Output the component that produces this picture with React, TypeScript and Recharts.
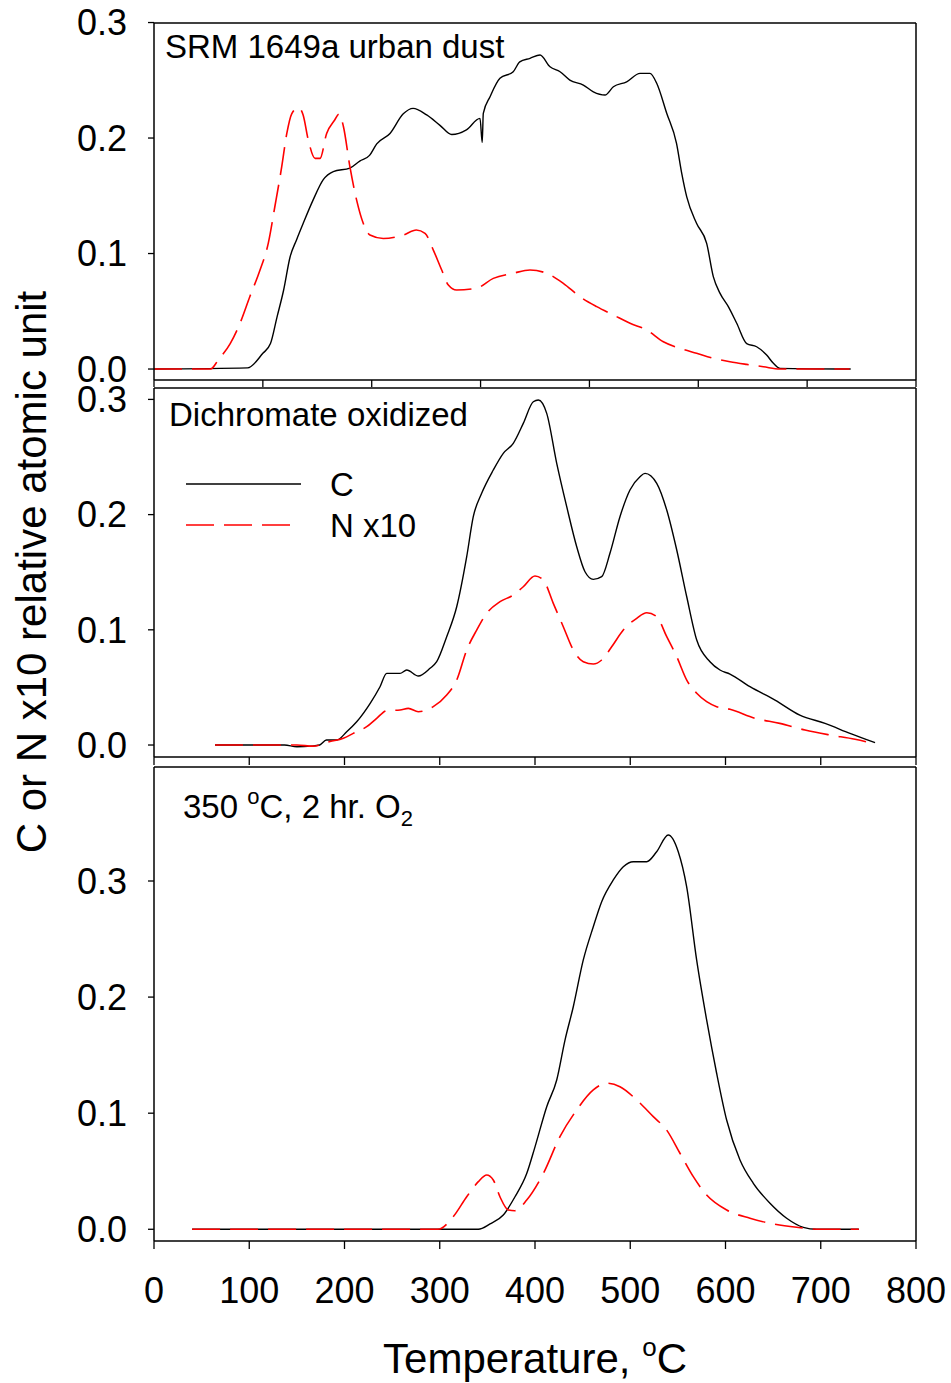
import React from 'react';
import { LineChart, Line, XAxis, YAxis, ReferenceLine, Legend } from 'recharts';

const FONT = '"Liberation Sans", Arial, Helvetica, sans-serif';

// ---------- Panel 1: SRM 1649a urban dust ----------
const srmCTemp = [0, 86, 100, 107, 113, 119, 125, 131, 137, 146, 155.5, 164.7, 180, 189, 198, 204.6, 216.8, 229, 238, 250.5, 262.7, 273.5, 287, 299.5, 301.5, 302.5, 308.7, 317.8, 330, 336, 345.4, 354.6, 363.8, 373, 382, 394.4, 403.6, 414.3, 422, 434.2, 446.5, 455.6, 461.8, 471, 480, 484.8, 489.4, 498.5, 507.7, 513.8, 520, 527.6, 535.3, 544.5, 553.6, 562.8, 569, 575, 640];
const srmC = [0, 0.001, 0.0136, 0.022, 0.045, 0.068, 0.097, 0.112, 0.126, 0.146, 0.164, 0.171, 0.174, 0.18, 0.185, 0.195, 0.204, 0.221, 0.2257, 0.22, 0.211, 0.203, 0.207, 0.217, 0.196, 0.2214, 0.2358, 0.2517, 0.2574, 0.266, 0.269, 0.2719, 0.2617, 0.2574, 0.2502, 0.2459, 0.24, 0.2372, 0.2444, 0.2487, 0.256, 0.256, 0.2474, 0.2214, 0.1954, 0.1694, 0.149, 0.126, 0.1088, 0.08, 0.0655, 0.054, 0.0396, 0.022, 0.0193, 0.0121, 0.0049, 0.0006, 0];
const srmNTemp = [0, 52, 59, 70, 79, 88, 97.4, 105, 111, 117.3, 122, 126.5, 132.6, 137, 141.8, 148, 152.5, 158.6, 166, 170, 174, 180, 186.2, 192.3, 198.4, 210.6, 229, 241, 249, 256.6, 264.3, 270.4, 278, 296.4, 311.7, 330, 345.4, 360.7, 376, 391.3, 406.7, 422, 437.3, 452.6, 467.9, 483.2, 498.5, 513.8, 529.1, 544.5, 559.8, 575, 639];
const srmN = [0, 0, 0.0078, 0.022, 0.0396, 0.0626, 0.0857, 0.109, 0.1405, 0.175, 0.204, 0.221, 0.2264, 0.22, 0.198, 0.1824, 0.1824, 0.204, 0.2156, 0.2208, 0.21, 0.175, 0.146, 0.126, 0.116, 0.113, 0.116, 0.1204, 0.1175, 0.103, 0.0857, 0.0727, 0.0684, 0.07, 0.0785, 0.0829, 0.0857, 0.0829, 0.0742, 0.0626, 0.054, 0.0468, 0.0396, 0.0338, 0.0236, 0.0179, 0.0136, 0.0093, 0.0063, 0.004, 0.002, 0, 0];

// ---------- Panel 2: Dichromate oxidized ----------
const dicCTemp = [64, 137, 150, 165, 174, 181, 191.8, 202.3, 212.8, 226.8, 237.3, 244.3, 258.3, 265.3, 277.5, 289.8, 296.8, 307.3, 317.8, 328.3, 335.2, 344, 356.2, 366.7, 377.2, 387.7, 398.2, 403.5, 412.3, 422.8, 433.3, 443.8, 452.5, 461.2, 470, 478.7, 489.2, 499.7, 510.2, 515.5, 527.8, 538.3, 548.8, 559.3, 569.8, 583.7, 594.2, 604.7, 625.7, 652, 678, 704.5, 730.7, 757];
const dicC = [0, 0, -0.0015, -0.001, 0, 0.0043, 0.0043, 0.0115, 0.0202, 0.036, 0.0506, 0.0622, 0.0622, 0.0651, 0.0599, 0.0666, 0.0723, 0.094, 0.12, 0.1635, 0.1982, 0.2185, 0.2387, 0.2532, 0.2619, 0.2792, 0.298, 0.2995, 0.2879, 0.2445, 0.2069, 0.1721, 0.1504, 0.1438, 0.1461, 0.1664, 0.1982, 0.2214, 0.2329, 0.2358, 0.2272, 0.204, 0.1693, 0.1287, 0.0911, 0.0723, 0.0651, 0.0616, 0.0506, 0.039, 0.026, 0.0188, 0.0101, 0.002];
const dicNTemp = [64, 150, 167, 184.8, 198.8, 209.2, 223.3, 233.8, 244.3, 258.3, 267, 277.5, 293.2, 307.3, 317.8, 328.3, 338.8, 349.3, 363.3, 377.2, 387.7, 400, 408.7, 419.2, 429.7, 440.2, 450.7, 461.2, 470, 480.5, 492.7, 506.8, 517.3, 527.8, 538.3, 548.8, 559.3, 569.8, 580.2, 590.7, 604.7, 631, 657, 683.5, 709.7, 736, 754.3];
const dicN = [0, 0, -0.001, 0.003, 0.0058, 0.0101, 0.0159, 0.0232, 0.0298, 0.0304, 0.0318, 0.0289, 0.0333, 0.0434, 0.0564, 0.0825, 0.0998, 0.1143, 0.1244, 0.1302, 0.1374, 0.1467, 0.1432, 0.123, 0.1027, 0.0825, 0.0723, 0.0703, 0.0738, 0.0853, 0.0998, 0.11, 0.1148, 0.1114, 0.094, 0.0767, 0.0564, 0.0449, 0.0376, 0.0333, 0.031, 0.0232, 0.0188, 0.013, 0.0087, 0.005, 0.0015];

// ---------- Panel 3: 350 °C, 2 hr. O2 ----------
const oxCTemp = [40, 340.5, 352.8, 366.7, 379, 391.3, 400, 412.3, 422.8, 431.5, 440.2, 450.7, 461.2, 470, 482.2, 492.7, 503.2, 517.2, 527.7, 539.9, 550.4, 559.2, 569.7, 580.2, 590.7, 601.2, 615.2, 629.2, 646.7, 664.2, 681.7, 695.7, 740];
const oxC = [0, 0, 0.0046, 0.0123, 0.028, 0.048, 0.071, 0.1056, 0.1286, 0.163, 0.1917, 0.232, 0.2606, 0.2822, 0.3009, 0.3123, 0.3166, 0.3166, 0.3252, 0.3396, 0.3252, 0.2951, 0.232, 0.1803, 0.1344, 0.0941, 0.0597, 0.0396, 0.0224, 0.0095, 0.0017, 0, 0];
const oxNTemp = [40, 298, 314.3, 328.3, 340.5, 349.3, 356.2, 363.2, 372, 379, 391.3, 408.7, 426.2, 443.8, 461.2, 475.2, 489.2, 506.8, 524.2, 538.2, 552.2, 566.2, 580.2, 601.2, 625.7, 650.2, 674.7, 699, 740];
const oxN = [0, 0, 0.011, 0.028, 0.041, 0.0468, 0.0425, 0.028, 0.0166, 0.016, 0.0252, 0.048, 0.0798, 0.1028, 0.12, 0.1258, 0.1228, 0.1114, 0.097, 0.0855, 0.0655, 0.0453, 0.0295, 0.0166, 0.0095, 0.0046, 0.0017, 0, 0];

// ---------- Axes / labels ----------
const yTicks = [0, 0.1, 0.2, 0.3];
const xTicksTop = [0, 100, 200, 300, 400, 500, 600, 700];
const xTicksMain = [0, 100, 200, 300, 400, 500, 600, 700, 800];
const seriesNames = ['C', 'N x10'];
const panelTitles = ['SRM 1649a urban dust', 'Dichromate oxidized'];
const yTitle = 'C or N x10 relative atomic unit';
const xTitle = 'Temperature, ';

const pts = (ts: number[], vs: number[]) => ts.map((t, i) => ({ t, v: vs[i] }));

const RED = '#ff0000';
const DASH = '28 10';
const AX = { stroke: '#000', strokeWidth: 1.5 };
const TL = { stroke: '#000', strokeWidth: 1.3 };

const renderLegend = (props: any) => {
  const payload = props.payload || [];
  return (
    <svg width={260} height={95} style={{ overflow: 'visible', display: 'block' }}>
      {payload.map((e: any, i: number) => {
        const dashed = e.value === seriesNames[1];
        return (
          <g key={i}>
            <line x1={6} x2={dashed ? 110 : 121} y1={29 + i * 41} y2={29 + i * 41} stroke={e.color} strokeWidth={1.5}
              strokeDasharray={dashed ? DASH : undefined} />
            <text x={150} y={41 + i * 41} fontSize={33} fontFamily={FONT} fill="#000">{e.value}</text>
          </g>
        );
      })}
    </svg>
  );
};

type PanelProps = {
  top: number;
  height: number;
  margin: { top: number; right: number; bottom: number; left: number };
  xDomain: [number, number];
  xTicks: number[];
  yDomain: [number, number];
  stripHeight?: number;
  cData: { t: number; v: number }[];
  nData: { t: number; v: number }[];
  main?: boolean;
  withLegend?: boolean;
};

function Panel(p: PanelProps) {
  return (
    <div style={{ position: 'absolute', left: 0, top: p.top }}>
      <LineChart width={951} height={p.height} margin={p.margin}>
        {p.main ? (
          <XAxis xAxisId="b" dataKey="t" type="number" domain={p.xDomain} ticks={p.xTicks} allowDataOverflow
            height={142} tickSize={8} tickMargin={28} axisLine={AX} tickLine={TL}
            tick={{ fontSize: 36, fill: '#000', fontFamily: FONT }}
            label={(lp: any) => {
              const vb = lp.viewBox || {};
              const cx = vb.x + vb.width / 2;
              const by = vb.y + 132;
              return (
                <text x={cx} y={by} textAnchor="middle" fontSize={42} fontFamily={FONT} fill="#000">
                  {xTitle}
                  <tspan dy={-17} fontSize={26}>o</tspan>
                  <tspan dy={17} fontSize={42}>C</tspan>
                </text>
              );
            }} />
        ) : (
          <XAxis xAxisId="b" dataKey="t" type="number" domain={p.xDomain} ticks={p.xTicks} allowDataOverflow
            height={p.stripHeight} tickSize={p.stripHeight} tickMargin={0} tickFormatter={() => ''} axisLine={AX}
            tickLine={TL} tick={{ fontSize: 1 }} />
        )}
        <YAxis yAxisId="l" type="number" domain={p.yDomain} ticks={yTicks} allowDataOverflow width={154}
          tickSize={6} tickMargin={21} axisLine={AX} tickLine={TL}
          tickFormatter={(v: number) => v.toFixed(1)}
          tick={{ fontSize: 36, fill: '#000', fontFamily: FONT }} />
        <ReferenceLine xAxisId="b" yAxisId="l" y={p.yDomain[1]} stroke="#000" strokeWidth={1.6} />
        <ReferenceLine xAxisId="b" yAxisId="l" x={p.xDomain[1]} stroke="#000" strokeWidth={1.5} />
        <Line xAxisId="b" yAxisId="l" data={p.cData} dataKey="v" name={seriesNames[0]} type="monotone"
          stroke="#000" strokeWidth={1.4} dot={false} activeDot={false} isAnimationActive={false} />
        <Line xAxisId="b" yAxisId="l" data={p.nData} dataKey="v" name={seriesNames[1]} type="monotone"
          stroke={RED} strokeWidth={1.6} strokeDasharray={DASH} dot={false} activeDot={false} isAnimationActive={false} />
        {p.withLegend && (
          <Legend layout="horizontal" verticalAlign="middle" align="center" content={renderLegend}
            wrapperStyle={{ position: 'absolute', left: 180, top: 80, width: 260, height: 95, margin: 0 }} />
        )}
      </LineChart>
    </div>
  );
}

export default function App() {
  return (
    <div style={{ position: 'absolute', left: 0, top: 0, width: 951, height: 1383, background: '#fff', fontFamily: FONT }}>
      <Panel top={0} height={400} margin={{ top: 23, right: 35, bottom: 13, left: 0 }}
        xDomain={[0, 700]} xTicks={xTicksTop} yDomain={[-0.0095, 0.2996]} stripHeight={7}
        cData={pts(srmCTemp, srmC)} nData={pts(srmNTemp, srmN)} />
      <Panel top={375} height={400} margin={{ top: 13, right: 35, bottom: 10, left: 0 }}
        xDomain={[0, 800]} xTicks={xTicksMain} yDomain={[-0.0104, 0.3099]} stripHeight={8}
        cData={pts(dicCTemp, dicC)} nData={pts(dicNTemp, dicN)} withLegend />
      <Panel top={750} height={633} margin={{ top: 17, right: 35, bottom: 0, left: 0 }}
        xDomain={[0, 800]} xTicks={xTicksMain} yDomain={[-0.0101, 0.3982]}
        cData={pts(oxCTemp, oxC)} nData={pts(oxNTemp, oxN)} main />
      <svg width={951} height={1383} style={{ position: 'absolute', left: 0, top: 0, pointerEvents: 'none' }}>
        <text x={46} y={572} transform="rotate(-90, 46, 572)" textAnchor="middle" fontSize={42}
          fontFamily={FONT} fill="#000">{yTitle}</text>
        <text x={165} y={58} fontSize={33} fontFamily={FONT} fill="#000">{panelTitles[0]}</text>
        <text x={169} y={426} fontSize={33} fontFamily={FONT} fill="#000">{panelTitles[1]}</text>
        <text x={183} y={818} fontSize={33} fontFamily={FONT} fill="#000">
          {'350 '}
          <tspan dy={-14} fontSize={22}>o</tspan>
          <tspan dy={14}>C, 2 hr. O</tspan>
          <tspan dy={8} fontSize={22}>2</tspan>
        </text>
      </svg>
    </div>
  );
}
